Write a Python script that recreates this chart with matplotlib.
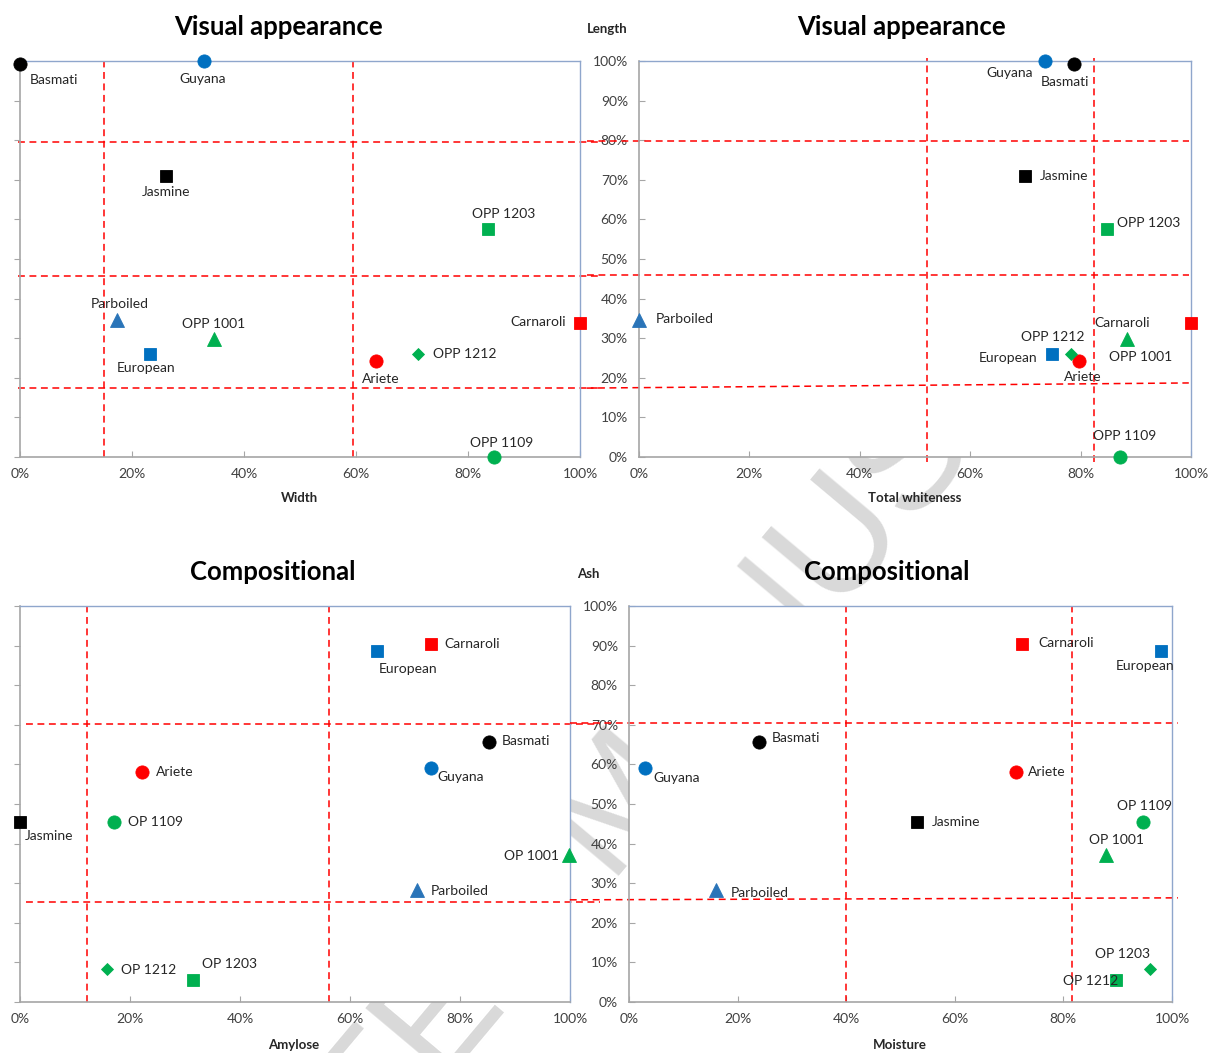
import matplotlib
matplotlib.use("Agg")
import matplotlib.pyplot as plt
from matplotlib.patches import Rectangle
from matplotlib.ticker import FuncFormatter, MultipleLocator

# ---------------------------------------------------------------- data
varieties = ["Basmati", "Guyana", "Jasmine", "OPP 1203", "Parboiled", "OPP 1001",
             "European", "Ariete", "OPP 1212", "Carnaroli", "OPP 1109"]
comp_names = ["Basmati", "Guyana", "Jasmine", "OP 1203", "Parboiled", "OP 1001",
              "European", "Ariete", "OP 1212", "Carnaroli", "OP 1109"]

width     = [0.0, 32.9, 26.1, 83.6, 17.4, 34.6, 23.2, 63.5, 71.0, 100.0, 84.6]
length    = [99.2, 100.0, 71.0, 57.5, 34.5, 29.9, 26.0, 24.3, 26.0, 33.9, 0.0]
whiteness = [78.8, 73.6, 70.0, 84.7, 0.0, 88.4, 74.8, 79.8, 78.2, 100.0, 87.1]
amylose   = [85.3, 74.8, 0.0, 31.4, 72.2, 99.9, 64.9, 22.2, 15.9, 74.8, 17.0]
moisture  = [24.0, 2.9, 53.1, 89.7, 16.1, 87.8, 98.0, 71.2, 96.0, 72.4, 94.7]
ash       = [65.7, 59.0, 45.5, 5.5, 28.3, 37.1, 88.7, 58.2, 8.4, 90.4, 45.5]

# quadrant thresholds: vertical (x) and horizontal (y, start -> end)
tl_vlines = [15.0, 59.5]
tl_hlines = [(79.5, 79.5), (45.8, 45.8), (17.5, 17.5)]
tr_vlines = [52.2, 82.5]
tr_hlines = [(79.8, 79.8), (45.9, 45.9), (17.4, 18.7)]
bl_vlines = [12.1, 56.1]
bl_hlines = [(70.2, 70.2), (25.3, 25.3)]
br_vlines = [40.0, 81.6]
br_hlines = [(70.4, 70.4), (25.8, 26.3)]

# ---------------------------------------------------------------- styles
BLACK, BLUE, RED, GREEN, PBLUE = "#000000", "#0070C0", "#FF0000", "#00B050", "#2A74B8"
styles = {
    "Basmati":   ("o", BLACK, 9.5),
    "Guyana":    ("o", BLUE, 9.5),
    "Jasmine":   ("s", BLACK, 8.5),
    "OPP 1203":  ("s", GREEN, 8.5),
    "Parboiled": ("^", PBLUE, 9.5),
    "OPP 1001":  ("^", GREEN, 9.5),
    "European":  ("s", BLUE, 8.5),
    "Ariete":    ("o", RED, 9.5),
    "OPP 1212":  ("D", GREEN, 6.5),
    "Carnaroli": ("s", RED, 8.5),
    "OPP 1109":  ("o", GREEN, 9.5),
}

# label offsets in pixels (dx, dy up, horizontal alignment)
off_tl = {
    "Basmati": (10, -16, "left"), "Guyana": (-2, -18, "center"),
    "Jasmine": (0, -16, "center"), "OPP 1203": (15, 15, "center"),
    "Parboiled": (2, 16, "center"), "OPP 1001": (0, 15, "center"),
    "European": (-4, -14, "center"), "Ariete": (5, -18, "center"),
    "OPP 1212": (15, 0, "left"), "Carnaroli": (-14, 1, "right"),
    "OPP 1109": (8, 14, "center"),
}
off_tr = {
    "Guyana": (-12, -12, "right"), "Basmati": (-9, -18, "center"),
    "Jasmine": (14, 0, "left"), "OPP 1203": (10, 6, "left"),
    "Parboiled": (17, 1, "left"), "Carnaroli": (-41, 0, "right"),
    "OPP 1001": (14, -18, "center"), "OPP 1212": (-18, 17, "center"),
    "European": (-15, -4, "right"), "Ariete": (3, -16, "center"),
    "OPP 1109": (5, 21, "center"),
}
off_bl = {
    "Carnaroli": (13, 0, "left"), "European": (2, -18, "left"),
    "Basmati": (13, 1, "left"), "Guyana": (6, -9, "left"),
    "Ariete": (14, 0, "left"), "OP 1109": (15, 0, "left"),
    "Jasmine": (5, -14, "left"), "OP 1001": (-10, -1, "right"),
    "Parboiled": (14, -1, "left"), "OP 1212": (14, -1, "left"),
    "OP 1203": (9, 16, "left"),
}
off_br = {
    "Carnaroli": (16, 1, "left"), "European": (-16, -15, "center"),
    "Basmati": (12, 4, "left"), "Guyana": (9, -10, "left"),
    "Ariete": (12, 0, "left"), "Jasmine": (14, 0, "left"),
    "OP 1109": (1, 16, "center"), "OP 1001": (11, 15, "center"),
    "Parboiled": (14, -3, "left"), "OP 1203": (6, 26, "center"),
    "OP 1212": (-60, -12, "center"),
}

W, H = 1210, 1053
plt.rcParams["font.family"] = ["Lato", "DejaVu Sans"]
TXT = "#262626"
TICK = "#404040"
LABEL_SIZE = 10
TICK_SIZE = 10

fig = plt.figure(figsize=(W / 100, H / 100), dpi=100)
fig.patch.set_facecolor("white")


def fx(px):
    return px / W


def fy(py):
    return 1 - py / H


def box(x0, y0, x1, y1):
    return [fx(x0), fy(y1), (x1 - x0) / W, (y1 - y0) / H]


# light watermark running diagonally behind the panels
wm = fig.text(fx(625), fy(805), "ACCEPTED MANUSCRIPT", fontsize=114,
              family=["Liberation Sans", "DejaVu Sans"], color="#D9D9D9",
              rotation=50, ha="center", va="center", zorder=-5)
wm_clip = Rectangle((0, 0), fx(1191), fy(61), transform=fig.transFigure,
                    facecolor="none", edgecolor="none")
wm.set_clip_path(wm_clip)

pct = FuncFormatter(lambda v, _: f"{int(round(v))}%")


def panel(rect, xs, ys, names, offsets, vlines, hlines, vext, hext,
          ylabels, ytick_dir):
    ax = fig.add_axes(rect, zorder=1)
    ax.set_facecolor("white")
    ax.set_xlim(0, 100)
    ax.set_ylim(0, 100)
    ax.xaxis.set_major_locator(MultipleLocator(20))
    ax.yaxis.set_major_locator(MultipleLocator(10))
    ax.xaxis.set_major_formatter(pct)
    ax.yaxis.set_major_formatter(pct)
    for s in ("top", "right"):
        ax.spines[s].set_color("#8FA6CC")
        ax.spines[s].set_linewidth(1.0)
    for s in ("left", "bottom"):
        ax.spines[s].set_color("#A6A6A6")
        ax.spines[s].set_linewidth(1.2)
    ax.tick_params(axis="x", direction="in", length=4, color="#A6A6A6",
                   labelsize=TICK_SIZE, labelcolor=TICK, pad=8)
    ax.tick_params(axis="y", direction=ytick_dir, length=4, color="#A6A6A6",
                   labelsize=TICK_SIZE, labelcolor=TICK,
                   pad=8 if ytick_dir == "in" else 5, labelleft=ylabels)

    dash = dict(color="#FF0000", lw=1.1, dashes=(4.5, 3), clip_on=False, zorder=2)
    for xv in vlines:
        ax.plot([xv, xv], vext, **dash)
    for y0, y1 in hlines:
        ax.plot(hext, [y0, y1], **dash)

    for nm, key, xv, yv in zip(names, varieties, xs, ys):
        mk, col, ms = styles[key]
        ax.plot([xv], [yv], marker=mk, color=col, markersize=ms,
                markeredgewidth=0.6, markeredgecolor=col, clip_on=False,
                zorder=4, linestyle="none")
        dx, dy, ha = offsets[nm]
        ax.annotate(nm, (xv, yv), xytext=(dx, dy), textcoords="offset pixels",
                    ha=ha, va="center", fontsize=LABEL_SIZE, color=TXT,
                    annotation_clip=False, zorder=5)
    return ax


panel(box(20, 61, 580, 457), width, length, varieties, off_tl,
      tl_vlines, tl_hlines, (0, 100), (-0.4, 103.5), False, "out")
panel(box(639, 61, 1191, 457), whiteness, length, varieties, off_tr,
      tr_vlines, tr_hlines, (-1.3, 100.8), (-9.5, 99.6), True, "in")
panel(box(20, 606, 570, 1002), amylose, ash, comp_names, off_bl,
      bl_vlines, bl_hlines, (0, 100), (1.0, 105.5), False, "out")
panel(box(629, 606, 1172, 1002), moisture, ash, comp_names, off_br,
      br_vlines, br_hlines, (0, 100), (-10.9, 101.1), True, "in")

# titles and axis names
title_kw = dict(fontsize=18.5, fontweight="bold", color="#000000",
                ha="center", va="center")
fig.text(fx(278), fy(27), "Visual appearance", **title_kw)
fig.text(fx(901), fy(27), "Visual appearance", **title_kw)
fig.text(fx(273), fy(572), "Compositional", **title_kw)
fig.text(fx(887), fy(572), "Compositional", **title_kw)

lab_kw = dict(fontsize=9.5, fontweight="bold", color=TXT, ha="center", va="center")
fig.text(fx(299), fy(498), "Width", **lab_kw)
fig.text(fx(915), fy(498), "Total whiteness", **lab_kw)
fig.text(fx(294), fy(1045), "Amylose", **lab_kw)
fig.text(fx(900), fy(1045), "Moisture", **lab_kw)
fig.text(fx(607), fy(29), "Length", **lab_kw)
fig.text(fx(588), fy(574), "Ash", **lab_kw)

fig.savefig("out.png", dpi=100, facecolor="white")
